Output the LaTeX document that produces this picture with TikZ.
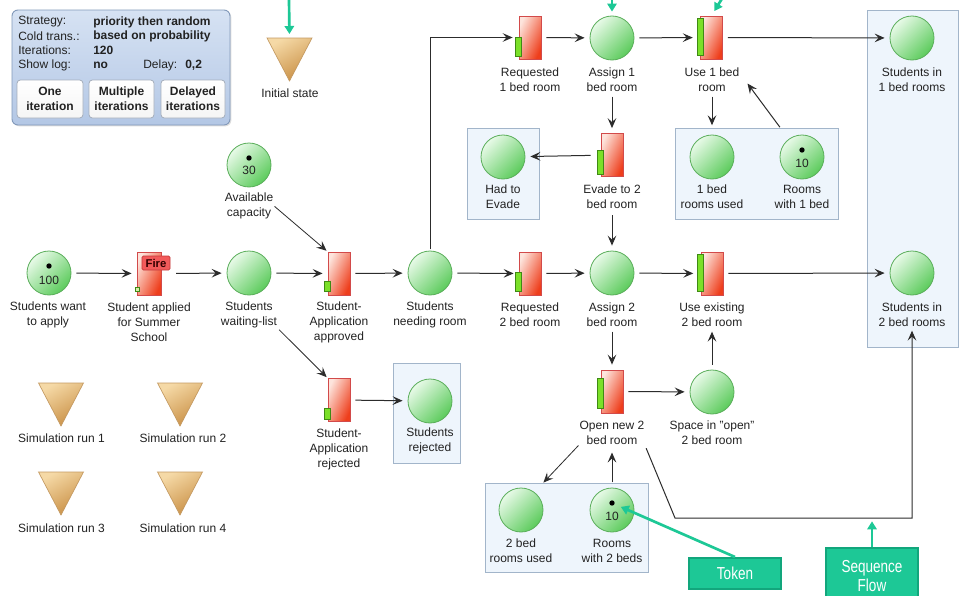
\documentclass[tikz,border=0pt]{standalone}
\usepackage{fontspec}
\setmainfont{Liberation Sans}
\newfontfamily\calloutfont[FakeStretch=0.78]{Liberation Sans}
\usetikzlibrary{arrows.meta,shadows}

\definecolor{txt}{HTML}{222222}
\definecolor{wire}{HTML}{2C2C2C}
\definecolor{placeTop}{HTML}{E8FAE8}
\definecolor{placeMid}{HTML}{A6E6A6}
\definecolor{placeBot}{HTML}{5CCB5C}
\definecolor{placeEdge}{HTML}{5AAE5A}
\definecolor{transTop}{HTML}{FDE4DC}
\definecolor{transMid}{HTML}{F79A84}
\definecolor{transBot}{HTML}{EE3E1C}
\definecolor{transEdge}{HTML}{D24A4A}
\definecolor{barFill}{HTML}{7BE028}
\definecolor{barEdge}{HTML}{3F8A14}
\definecolor{grpFill}{HTML}{EEF5FC}
\definecolor{grpEdge}{HTML}{A2B5CA}
\definecolor{triTop}{HTML}{F5D9A6}
\definecolor{triBot}{HTML}{C98F44}
\definecolor{triEdge}{HTML}{C49A62}
\definecolor{teal}{HTML}{1DC896}
\definecolor{tealEdge}{HTML}{12A67C}
\definecolor{panelTop}{HTML}{D6E2F3}
\definecolor{panelBot}{HTML}{B3C7E5}
\definecolor{panelEdge}{HTML}{8299BA}
\definecolor{btnEdge}{HTML}{A5AEBB}
\definecolor{fireFill}{HTML}{F25A5A}
\definecolor{fireEdge}{HTML}{C43A3A}

\tikzset{
  px/.style={x=0.75pt,y=-0.75pt},
  txtfont/.style={font=\fontsize{9}{11.25}\selectfont},
  lbl/.style={txtfont, text=txt, align=center, inner sep=0pt},
  ptxt/.style={txtfont, text=txt, anchor=west, inner sep=0pt},
  pval/.style={ptxt, font=\fontsize{9}{11.25}\selectfont\bfseries},
  place/.style={circle, draw=placeEdge, line width=0.6pt, top color=placeTop,
    middle color=placeMid, bottom color=placeBot, shading angle=45,
    minimum size=33pt, inner sep=0pt},
  trans/.style={rectangle, draw=transEdge, line width=0.6pt, top color=transTop,
    middle color=transMid, bottom color=transBot, shading angle=65,
    minimum width=16.5pt, minimum height=32.25pt, inner sep=0pt},
  enbar/.style={draw=barEdge, fill=barFill, line width=0.5pt},
  grp/.style={rectangle, draw=grpEdge, fill=grpFill, line width=0.6pt, inner sep=0pt},
  tri/.style={draw=triEdge, line width=0.5pt, top color=triTop, bottom color=triBot,
    shading angle=30},
  tok/.style={circle, fill=black, inner sep=0pt, minimum size=4pt},
  toknum/.style={txtfont, text=txt, inner sep=0pt},
  arr/.style={draw=wire, line width=0.75pt,
    -{Stealth[length=7.5pt,width=6.5pt,inset=3pt]},
    shorten <=3.75pt, shorten >=3.75pt},
  callarr/.style={draw=teal, line width=2pt, -{Triangle[length=6pt,width=7pt]}},
  callout/.style={rectangle, fill=teal, draw=tealEdge, line width=1.5pt, text=white,
    font=\calloutfont\fontsize{13}{14.25}\selectfont, align=center, inner sep=0pt},
  panelbox/.style={rectangle, rounded corners=4.5pt, draw=panelEdge, line width=0.7pt,
    top color=panelTop, bottom color=panelBot,
    drop shadow={opacity=0.25, shadow xshift=1pt, shadow yshift=-1pt}},
  btn/.style={rectangle, rounded corners=2.5pt, draw=btnEdge, line width=0.6pt,
    top color=white, bottom color=gray!8, align=center, text=txt,
    font=\fontsize{9}{11.25}\selectfont\bfseries, inner sep=0pt,
    minimum height=28.5pt},
  firetag/.style={rectangle, rounded corners=1pt, fill=fireFill, draw=fireEdge,
    line width=0.6pt, minimum width=21pt, minimum height=10.5pt, inner sep=0pt,
    font=\fontsize{8.5}{9}\selectfont\bfseries, text=black!80!red}
}

% enabling bar on the left edge of a transition (offsets from its top edge)
\newcommand\enable[3]{\draw[enbar] ([shift={(-3,#2)}]#1.north west) rectangle ([shift={(3,#3)}]#1.north west);}
% inverted triangle marker with its top centre at (#2,#3)
\newcommand\invtri[3]{\path[tri] ({#2-22.5},#3) -- ({#2+22.5},#3) -- (#2,{#3+43}) -- cycle;
  \coordinate (#1) at (#2,#3);}

\begin{document}
\begin{tikzpicture}[px]
\useasboundingbox (0,0) rectangle (961,596);
\fill[white] (0,0) rectangle (961,596);

% ---------- simulation control panel ----------
\node[panelbox, minimum width=163.5pt, minimum height=86.25pt] (panel) at (121,67.5) {};
\node[ptxt] (k1) at (18,22) {Strategy:};
\node[ptxt] (k2) at (18,36) {Cold trans.:};
\node[ptxt] (k3) at (18,50.5) {Iterations:};
\node[ptxt] (k4) at (18,65.5) {Show log:};
\node[pval] (v1) at (93,22) {priority then random};
\node[pval] (v2) at (93,36) {based on probability};
\node[pval] (v3) at (93,50.5) {120};
\node[pval] (v4) at (93,65.5) {no};
\node[ptxt] (k5) at (143,65.5) {Delay:};
\node[pval] (v5) at (185,65.5) {0,2};
\node[btn, minimum width=49.5pt] (btn1) at (50,99) {One\\iteration};
\node[btn, minimum width=48.75pt] (btn2) at (121.5,99) {Multiple\\iterations};
\node[btn, minimum width=48pt] (btn3) at (193,99) {Delayed\\iterations};

% ---------- markers ----------
\invtri{init}{289.5}{38}
\node[lbl] (init-l) at (290,93) {Initial state};
\invtri{sim1}{61}{383}
\invtri{sim2}{180}{383}
\invtri{sim3}{61}{472}
\invtri{sim4}{180}{472}
\node[lbl] (sim1-l) at (61.5,438) {Simulation run 1};
\node[lbl] (sim2-l) at (183,438) {Simulation run 2};
\node[lbl] (sim3-l) at (61.5,528) {Simulation run 3};
\node[lbl] (sim4-l) at (183,528) {Simulation run 4};

% ---------- group frames ----------
\node[grp, minimum width=54pt, minimum height=68.25pt] (evadeBox) at (503,173.5) {};
\node[grp, minimum width=122.25pt, minimum height=68.25pt] (box1) at (756.5,173.5) {};
\node[grp, minimum width=50.25pt, minimum height=75pt] (rejBox) at (426.5,413) {};
\node[grp, minimum width=122.25pt, minimum height=66.75pt] (box2) at (566.5,527.5) {};
\node[grp, minimum width=68.25pt, minimum height=252.75pt] (sBox) at (912.5,178.5) {};

% ---------- places ----------
\node[place] (want) at (49,273) {};
\node[place] (waiting) at (249,273) {};
\node[place] (avail) at (249,165) {};
\node[place] (needing) at (430,273) {};
\node[place] (rejd) at (430,401) {};
\node[place] (assign1) at (612,38) {};
\node[place] (assign2) at (612,273) {};
\node[place] (evaded) at (503,157) {};
\node[place] (used1) at (712,157) {};
\node[place] (rooms1) at (802,157) {};
\node[place] (space) at (712,392) {};
\node[place] (used2) at (521,510) {};
\node[place] (rooms2) at (612,510) {};
\node[place] (s1) at (912,38) {};
\node[place] (s2) at (912,273) {};

% tokens
\node[tok] (wantdot) at (49,266) {};
\node[toknum] (wantnum) at (49,280) {100};
\node[tok] (availdot) at (249,158) {};
\node[toknum] (availnum) at (249,170) {30};
\node[tok] (r1dot) at (802,150) {};
\node[toknum] (r1num) at (802,163) {10};
\node[tok] (r2dot) at (612,503) {};
\node[toknum] (r2num) at (612,516) {10};

% ---------- transitions ----------
\node[trans, minimum width=18pt] (applied) at (149,273.5) {};
\node[trans] (approved) at (339,273.5) {};
\node[trans] (rejected) at (339,400) {};
\node[trans] (req1) at (530,37.5) {};
\node[trans] (use1) at (711.5,37.5) {};
\node[trans] (evade) at (612,155) {};
\node[trans] (req2) at (530,273.5) {};
\node[trans] (use2) at (712,273.5) {};
\node[trans] (open) at (612,391.5) {};

\enable{approved}{30}{40}
\enable{rejected}{30}{41}
\enable{req1}{22}{41}
\enable{use1}{3}{40}
\enable{evade}{17}{41}
\enable{req2}{21}{40}
\enable{use2}{3}{40}
\enable{open}{9}{39}
\draw[draw=barEdge, fill=yellow!55!green!35, line width=0.5pt]
  ([shift={(-1.5,36)}]applied.north west) rectangle ([shift={(2.5,40)}]applied.north west);
\node[firetag] (fire) at (156,263) {Fire};

% ---------- labels ----------
\node[lbl] (want-l) at (48,314.5) {Students want\\to apply};
\node[lbl] (applied-l) at (149,322) {Student applied\\for Summer\\School};
\node[lbl] (waiting-l) at (249,314.5) {Students\\waiting-list};
\node[lbl] (approved-l) at (339,322) {Student-\\Application\\approved};
\node[lbl] (needing-l) at (430,314.5) {Students\\needing room};
\node[lbl] (req2-l) at (530,314.5) {Requested\\2 bed room};
\node[lbl] (assign2-l) at (612,314.5) {Assign 2\\bed room};
\node[lbl] (use2-l) at (712,314.5) {Use existing\\2 bed room};
\node[lbl] (s2-l) at (912,314.5) {Students in\\2 bed rooms};
\node[lbl] (req1-l) at (530,79.5) {Requested\\1 bed room};
\node[lbl] (assign1-l) at (612,79.5) {Assign 1\\bed room};
\node[lbl] (use1-l) at (712,79.5) {Use 1 bed\\room};
\node[lbl] (s1-l) at (912,79.5) {Students in\\1 bed rooms};
\node[lbl] (evaded-l) at (503,196.5) {Had to\\Evade};
\node[lbl] (evade-l) at (612,196.5) {Evade to 2\\bed room};
\node[lbl] (used1-l) at (712,196.5) {1 bed\\rooms used};
\node[lbl] (rooms1-l) at (802,196.5) {Rooms\\with 1 bed};
\node[lbl] (avail-l) at (249,205.5) {Available\\capacity};
\node[lbl] (rejected-l) at (339,449) {Student-\\Application\\rejected};
\node[lbl] (rejd-l) at (430,441) {Students\\rejected};
\node[lbl] (open-l) at (612,432.5) {Open new 2\\bed room};
\node[lbl] (space-l) at (712,432.5) {Space in "open"\\2 bed room};
\node[lbl] (used2-l) at (521,550.5) {2 bed\\rooms used};
\node[lbl] (rooms2-l) at (612,550.5) {Rooms\\with 2 beds};

% ---------- flow arcs ----------
\draw[arr] (want) -- (applied);
\draw[arr, shorten <=11pt] (applied) -- (waiting);
\draw[arr] (waiting) -- (approved);
\draw[arr] (approved) -- (needing);
\draw[arr] (needing) -- (req2);
\draw[arr, shorten <=1pt, shorten >=4.5pt] (needing.north) |- (req1.west);
\draw[arr] (req1) -- (assign1);
\draw[arr, shorten >=5.5pt] (assign1) -- (use1);
\draw[arr] (use1) -- (s1);
\draw[arr] (req2) -- (assign2);
\draw[arr, shorten >=5.5pt] (assign2) -- (use2);
\draw[arr] (use2) -- (s2);
\draw[arr] (assign1-l.south) -- (evade.north);
\draw[arr, shorten <=7.5pt] (evade) -- (evaded);
\draw[arr, shorten <=5pt] (evade-l.south) -- (assign2.north);
\draw[arr] (assign2-l.south) -- (open.north);
\draw[arr] (open) -- (space);
\draw[arr] (space.north) -- (use2-l.south);
\draw[arr, shorten >=7pt] (use1-l.south) -- (used1.north);
\draw[arr, shorten <=11pt, shorten >=0pt] (rooms1) -- ([shift={(36,46)}]use1.center);
\draw[arr, line width=0.6pt, shorten <=1pt, shorten >=1pt] (avail-l.east) -- (approved.north west);
\draw[arr, line width=0.6pt, shorten <=2pt, shorten >=1pt] (waiting-l.south east) -- (rejected.north west);
\draw[arr] (rejected) -- (rejd);
\draw[arr, line width=0.6pt, shorten <=1pt, shorten >=0pt] (open-l.south west) -- (used2.east |- box2.north);
\draw[arr, shorten <=4pt, shorten >=6pt] (rooms2.north) -- (open-l.south);
\coordinate (bend) at (675,518);
\draw[arr, shorten <=3pt, shorten >=3pt] (open-l.south east) -- (bend) -| (s2-l.south);

% ---------- callouts ----------
\coordinate (tealA) at (289,0);
\coordinate (tealB) at (612,-1);
\coordinate (tealC) at (723,-3);
\draw[callarr, shorten >=3pt] (tealA) -- (init);
\draw[callarr, shorten >=3pt] (tealB) -- (assign1.north);
\draw[callarr, shorten >=4pt] (tealC) -- (use1.north);
\node[callout, minimum width=69pt, minimum height=23.25pt] (token) at (735,573.5) {Token};
\node[callout, minimum width=69pt, minimum height=42pt] (seq) at (872,576) {Sequence\\Flow};
\draw[callarr, shorten >=5pt] (token.north) -- (r2dot);
\draw[callarr, shorten >=2.5pt] (seq.north) -- (seq.north |- bend);
\end{tikzpicture}
\end{document}
